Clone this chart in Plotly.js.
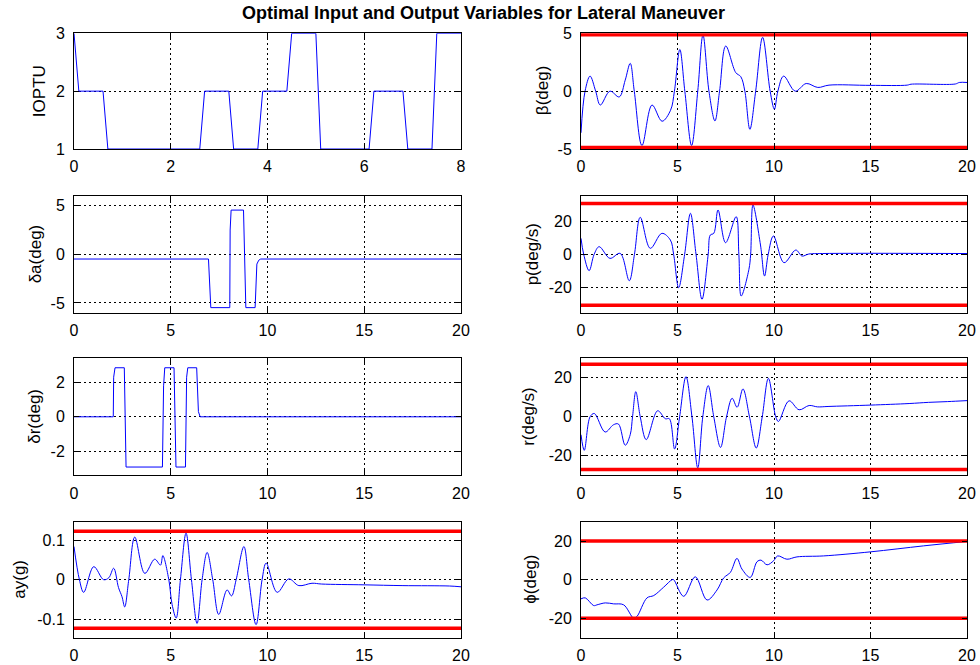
<!DOCTYPE html>
<html>
<head>
<meta charset="utf-8">
<script src="https://cdn.plot.ly/plotly-3.0.1.min.js"></script>
<style>html,body{margin:0;padding:0;background:#fff;}#chart{width:980px;height:665px;}</style>
</head>
<body>
<div id="chart"></div>
<script>
// ---------- data ----------
const titleText = 'Optimal Input and Output Variables for Lateral Maneuver';

const tIoptu = [0,0.1,0.6,0.7,2.6,2.7,3.2,3.3,3.8,3.9,4.4,4.5,5.0,5.1,6.1,6.2,6.8,6.9,7.4,7.5,8.0];
const ioptu  = [3,2,2,1,1,2,2,1,1,2,2,3,3,1,1,2,2,1,1,3,3];

const tDa = [0,6.95,7.07,8.05,8.07,8.12,8.76,8.88,9.36,9.45,9.55,9.65,20];
const da  = [-0.48,-0.48,-5.48,-5.48,2.5,4.55,4.55,-5.48,-5.48,-1.0,-0.6,-0.48,-0.48];

const tDr = [0,2.03,2.05,2.12,2.6,2.69,4.57,4.63,4.69,5.17,5.27,5.76,5.82,5.88,6.34,6.43,6.52,20];
const dr  = [0,0,2.3,2.85,2.85,-2.92,-2.92,1.8,2.85,2.85,-2.92,-2.92,2.3,2.85,2.85,0.3,0,0];

const tAy = [0,0.28,0.5,1.02,1.53,1.8,2.05,2.3,2.48,2.62,2.83,3.14,3.66,4.17,4.47,4.59,4.9,5.07,5.28,5.5,5.79,6.07,6.36,6.62,6.88,7.17,7.48,7.91,8.14,8.38,8.78,9.03,9.41,9.72,9.93,10.5,11.1,11.62,12.3,12.8,15,17,19.4,20];
const ay  = [0.084,0,-0.032,0.033,0.0,0.005,0.029,-0.02,-0.043,-0.069,0,0.108,0.016,0.052,0.037,0.061,0,-0.063,-0.097,0,0.118,0,-0.111,0,0.069,0,-0.088,-0.026,-0.041,0,0.084,0,-0.114,0,0.042,-0.032,0.002,-0.015,-0.009,-0.011,-0.013,-0.015,-0.016,-0.018];

const tBeta = [0,0.21,0.47,0.76,1.0,1.5,1.98,2.29,2.55,2.76,3.16,3.68,4.2,4.64,4.84,5.12,5.38,5.73,6.05,6.32,6.63,6.94,7.18,7.5,8.02,8.28,8.49,8.75,9.05,9.41,9.8,10.02,10.2,10.5,11.1,11.67,12.27,12.85,15,16.9,17.1,19.4,19.6,20];
const beta  = [-3.6,0,1.3,0,-1.2,0,-0.5,0.95,2.4,0,-4.7,-1.2,-2.6,-1.65,0,3.6,0,-4.7,0,4.85,0,-2.57,0,3.9,1.6,1.25,0,-3.3,0,4.65,0,-1.56,0,1.3,0,0.66,0.32,0.52,0.5,0.52,0.6,0.62,0.75,0.75];

const tP = [0,0.14,0.42,0.68,0.94,1.5,2.03,2.5,2.77,3.07,3.59,4.19,4.63,4.8,5.06,5.37,5.67,5.96,6.27,6.59,6.7,6.88,7.1,7.49,8.04,8.18,8.3,8.7,8.79,8.91,9.3,9.51,9.7,9.97,10.52,11.13,11.45,11.8,12.5,20];
const p  = [9.6,0,-9.8,0,4.6,-2.4,0.6,-15.8,0,22.2,3.6,12.6,8.6,0,-20,0,24.6,0,-27,0,11.6,12.6,26.6,7,22.6,0,-25,-9,0,29.6,5.6,-13,0,11,-5,2.6,-1,0.2,0.5,0.5];

const tR = [0,0.17,0.47,0.69,1.25,1.68,1.94,2.29,2.55,2.67,2.84,3.07,3.38,3.97,4.37,4.58,4.85,5.11,5.44,5.75,6.05,6.31,6.59,6.88,7.23,7.54,7.83,8.09,8.39,8.73,9.08,9.39,9.71,10.09,10.23,10.78,11.3,11.82,12.25,12.8,15,17,18,19,20];
const r  = [-9.2,-17.2,0,1.7,-7.8,-4.1,-3.7,-14.6,-9.2,0,12.9,0,-11.7,3.1,-1,-1,-16.5,0,20.6,0,-26.2,0,16,0,-15.7,0,9.5,4.9,14.3,0,-16,0,19.7,0,-2.4,8.2,3.6,5.8,5.1,5.3,6,6.8,7.4,7.8,8.3];

const tPhi = [0,0.22,0.66,0.83,1.26,1.69,2.21,2.73,2.9,3.42,3.77,4.28,4.72,4.8,5.32,5.92,6.53,7.05,7.39,7.74,8.08,8.34,8.77,9.12,9.33,9.64,9.98,10.19,10.67,11.19,12.57,14.99,17.75,20];
const phi  = [-9.9,-9.4,-13.4,-13,-12,-12.5,-13,-19.9,-19,-9.4,-8.2,-3.9,0,0,-8.6,1.5,-10.5,-5.3,0.9,3.8,11,5.5,1.2,9.3,10.1,7.7,9.8,12.3,10.6,11.8,12.3,14.4,17.5,19.8];

// limits (red lines)
const betaLim = [4.88, -4.88];
const pLim    = [30.5, -30.5];
const rLim    = [27, -27];
const ayLim   = [0.123, -0.123];
const phiLim  = [20, -20];

// tick labels
const ticksT8   = [0,2,4,6,8];
const ticksT20  = [0,5,10,15,20];
const ticksIo   = [1,2,3];
const ticksDa   = [-5,0,5];
const ticksDr   = [-2,0,2];
const ticksAy   = [-0.1,0,0.1];
const ticksAyTx = ['-0.1','0','0.1'];
const ticksBeta = [-5,0,5];
const ticks20   = [-20,0,20];

const yLabels = ['IOPTU','δa(deg)','δr(deg)','ay(g)','β(deg)','p(deg/s)','r(deg/s)','ϕ(deg)'];

// ---------- styling ----------
const FONT = 'Liberation Sans, Arial, Helvetica, sans-serif';
const BLUE = '#0000ff', RED = '#ff0000';

function txt(vals){ return vals.map(v => String(v)); }

function axisBase(extra){
  return Object.assign({
    showline:true, mirror:'ticks', linecolor:'black', linewidth:1,
    ticks:'inside', ticklen:5, tickcolor:'black', tickwidth:1,
    showgrid:true, gridcolor:'black', gridwidth:1, griddash:'2px,3px',
    zeroline:false, fixedrange:true, tickmode:'array',
    tickfont:{family:FONT, size:16, color:'black'}
  }, extra);
}

const colL = [74/980, 461/980];
const colR = [581/980, 967/980];
const rows = [
  [1-149/665, 1-33.3/665],
  [1-312.7/665, 1-196/665],
  [1-475.3/665, 1-358.3/665],
  [1-637.7/665, 1-521.7/665]
];

const traces = [];
function line(x, y, n, color, width, shape){
  traces.push({x:x, y:y, xaxis:'x'+(n===1?'':n), yaxis:'y'+(n===1?'':n),
    type:'scatter', mode:'lines', hoverinfo:'skip',
    line:{color:color, width:width, shape:shape||'linear', smoothing:1}});
}
function limits(lims, n){
  lims.forEach(v => line([0,20],[v,v], n, RED, 3.5));
}

// subplot numbering: 1 IOPTU, 2 beta, 3 da, 4 p, 5 dr, 6 r, 7 ay, 8 phi
line(tIoptu, ioptu, 1, BLUE, 1);
line(tBeta, beta, 2, BLUE, 1, 'spline'); limits(betaLim, 2);
line(tDa, da, 3, BLUE, 1);
line(tP, p, 4, BLUE, 1, 'spline'); limits(pLim, 4);
line(tDr, dr, 5, BLUE, 1);
line(tR, r, 6, BLUE, 1, 'spline'); limits(rLim, 6);
line(tAy, ay, 7, BLUE, 1, 'spline'); limits(ayLim, 7);
line(tPhi, phi, 8, BLUE, 1, 'spline'); limits(phiLim, 8);

const layout = {
  width:980, height:665, showlegend:false,
  paper_bgcolor:'white', plot_bgcolor:'white',
  margin:{l:0, r:0, t:0, b:0},
  title:{text:titleText, font:{family:FONT, size:18, color:'black', weight:'bold'},
         x:483.5/980, xanchor:'center', xref:'paper', y:1-13/665, yanchor:'middle', yref:'paper'},
  annotations:[]
};

const defs = [
  // n, col, row, xrange, xticks, yrange, yticks, yticktext, labelX
  [1, colL, 0, [0,8],  ticksT8,  [1,3],        ticksIo,   null,      39],
  [2, colR, 0, [0,20], ticksT20, [-5,5],       ticksBeta, null,      542],
  [3, colL, 1, [0,20], ticksT20, [-6,6],       ticksDa,   null,      35],
  [4, colR, 1, [0,20], ticksT20, [-35,35],     ticks20,   null,      532],
  [5, colL, 2, [0,20], ticksT20, [-3.4,3.4],   ticksDr,   null,      35],
  [6, colR, 2, [0,20], ticksT20, [-30,30],     ticks20,   null,      529],
  [7, colL, 3, [0,20], ticksT20, [-0.147,0.147], ticksAy, ticksAyTx, 20],
  [8, colR, 3, [0,20], ticksT20, [-30,30],     ticks20,   null,      531]
];
const labelOrder = {1:0,3:1,5:2,7:3,2:4,4:5,6:6,8:7};

defs.forEach(d => {
  const [n, col, row, xr, xt, yr, yt, ytt, lx] = d;
  const sfx = n===1 ? '' : String(n);
  layout['xaxis'+sfx] = axisBase({domain:col, range:xr, tickvals:xt, ticktext:txt(xt),
    anchor:'y'+sfx, ticklabelstandoff:3});
  layout['yaxis'+sfx] = axisBase({domain:rows[row], range:yr, tickvals:yt,
    ticktext: ytt ? ytt : txt(yt), anchor:'x'+sfx, ticklabelstandoff:5});
  layout.annotations.push({
    text:yLabels[labelOrder[n]], xref:'paper', yref:'paper',
    x:lx/980, y:(rows[row][0]+rows[row][1])/2, xanchor:'center', yanchor:'middle',
    textangle:-90, showarrow:false, font:{family:FONT, size:17, color:'black'}
  });
});

Plotly.newPlot('chart', traces, layout, {displayModeBar:false, staticPlot:true});
</script>
</body>
</html>
